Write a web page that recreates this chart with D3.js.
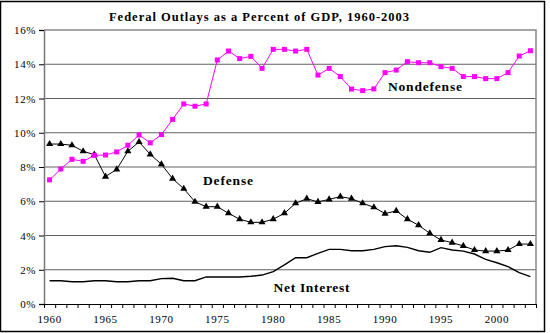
<!DOCTYPE html>
<html>
<head>
<meta charset="utf-8">
<script src="https://cdn.jsdelivr.net/npm/d3@7"></script>
<style>
  body { margin: 0; background: #fff; }
  text { font-family: "Liberation Serif", "Times New Roman", serif; }
</style>
</head>
<body>
<div id="chart"></div>
<script>
// Data (percent of GDP)
var years = d3.range(1960, 2004)

var nondefense = [7.25, 7.88, 8.45, 8.33, 8.68, 8.7, 8.88, 9.27, 9.87, 9.41, 9.89,
  10.78, 11.68, 11.55, 11.68, 14.25, 14.77, 14.33, 14.46, 13.76, 14.87,
  14.87, 14.77, 14.87, 13.37, 13.76, 13.28, 12.55, 12.46, 12.56, 13.51,
  13.66, 14.15, 14.09, 14.09, 13.86, 13.76, 13.28, 13.28, 13.16, 13.16,
  13.51, 14.48, 14.79]

var defense = [9.34, 9.34, 9.27, 8.92, 8.72, 7.44, 7.86, 8.92, 9.46, 8.74, 8.16,
  7.32, 6.73, 5.97, 5.68, 5.68, 5.3, 4.95, 4.77, 4.77, 4.95,
  5.3, 5.88, 6.15, 5.96, 6.11, 6.27, 6.15, 5.88, 5.65, 5.28,
  5.44, 4.95, 4.6, 4.13, 3.74, 3.58, 3.39, 3.15, 3.09, 3.09,
  3.15, 3.5, 3.5]

var netInterest = [1.36, 1.36, 1.3, 1.3, 1.36, 1.36, 1.3, 1.3, 1.36, 1.36, 1.48,
  1.5, 1.36, 1.36, 1.58, 1.58, 1.58, 1.58, 1.62, 1.69, 1.89,
  2.28, 2.7, 2.7, 2.96, 3.19, 3.19, 3.11, 3.11, 3.19, 3.35,
  3.4, 3.31, 3.11, 3.02, 3.29, 3.15, 3.09, 2.92, 2.61, 2.41,
  2.18, 1.83, 1.6]

var yTicks = [0, 2, 4, 6, 8, 10, 12, 14, 16]
var xLabels = [1960, 1965, 1970, 1975, 1980, 1985, 1990, 1995, 2000]

var svg = d3.select('#chart').append('svg').attr('width', 550).attr('height', 333)

// outer frame
svg.append('rect').attr('x', 0.5).attr('y', 1.5).attr('width', 544).attr('height', 330)
  .attr('fill', '#fff').attr('stroke', '#000').attr('stroke-width', 1.5)

var plotL = 44, plotR = 536, plotT = 30, plotB = 304

var x = d3.scaleLinear().domain([1959.5, 2003.5]).range([plotL, plotR])
var y = d3.scaleLinear().domain([0, 16]).range([plotB, plotT])

// gridlines
svg.append('g').selectAll('line').data(yTicks.slice(1, -1)).join('line')
  .attr('x1', plotL).attr('x2', plotR)
  .attr('y1', d => y(d)).attr('y2', d => y(d))
  .attr('stroke', '#606060').attr('stroke-width', 1.2)

// plot border (top / right)
svg.append('path')
  .attr('d', 'M' + plotL + ',' + y(16) + 'H' + plotR + 'V' + plotB)
  .attr('fill', 'none').attr('stroke', '#888').attr('stroke-width', 1.5)

// y axis
var yAxis = svg.append('g').attr('transform', 'translate(' + plotL + ',0)')
  .call(d3.axisLeft(y).tickValues(yTicks).tickSize(5).tickPadding(3).tickFormat(d => d + '%'))
yAxis.select('.domain').attr('stroke', '#777').attr('stroke-width', 1.5)
yAxis.selectAll('.tick line').attr('stroke', '#000')
yAxis.selectAll('text').attr('font-size', 11).attr('fill', '#000')
  .attr('font-family', '"Liberation Serif", serif').style('letter-spacing', '0.6px')

// x axis: ticks between categories, labels every 5 years
var xAxis = svg.append('g').attr('transform', 'translate(0,' + plotB + ')')
  .call(d3.axisBottom(x).tickValues(d3.range(1959.5, 2004, 1)).tickSize(4).tickFormat(''))
xAxis.select('.domain').attr('stroke', '#000')
xAxis.selectAll('.tick line').attr('stroke', '#000')

svg.append('g').selectAll('text').data(xLabels).join('text')
  .attr('x', d => x(d)).attr('y', 322.5)
  .attr('text-anchor', 'middle').attr('font-size', 11)
  .style('letter-spacing', '0.6px')
  .text(d => d)

// series
var line = d3.line().x((d, i) => x(years[i])).y(d => y(d))

svg.append('path').datum(netInterest).attr('d', line)
  .attr('fill', 'none').attr('stroke', '#000').attr('stroke-width', 1.4)

svg.append('path').datum(defense).attr('d', line)
  .attr('fill', 'none').attr('stroke', '#000').attr('stroke-width', 1)

svg.append('path').datum(nondefense).attr('d', line)
  .attr('fill', 'none').attr('stroke', '#ff00ff').attr('stroke-width', 1)

svg.append('g').selectAll('path').data(defense).join('path')
  .attr('transform', (d, i) => 'translate(' + x(years[i]) + ',' + y(d) + ')')
  .attr('d', d3.symbol(d3.symbolTriangle, 22))
  .attr('fill', '#000')

svg.append('g').selectAll('rect').data(nondefense).join('rect')
  .attr('x', (d, i) => x(years[i]) - 2.5).attr('y', d => y(d) - 2.5)
  .attr('width', 5).attr('height', 5)
  .attr('fill', '#ff00ff')

// title
svg.append('text').attr('x', 259).attr('y', 20.5)
  .attr('text-anchor', 'middle').attr('font-size', 12.5).attr('font-weight', 'bold')
  .attr('textLength', 300).attr('lengthAdjust', 'spacing')
  .text('Federal Outlays as a Percent of GDP, 1960-2003')

// series labels
var labels = [
  {text: 'Nondefense', x: 388, y: 90.5, w: 74},
  {text: 'Defense', x: 203, y: 185.3, w: 50},
  {text: 'Net Interest', x: 273.5, y: 291.5, w: 76}
]
svg.append('g').selectAll('text').data(labels).join('text')
  .attr('x', d => d.x).attr('y', d => d.y)
  .attr('font-size', 13.5).attr('font-weight', 'bold')
  .attr('textLength', d => d.w).attr('lengthAdjust', 'spacing')
  .text(d => d.text)
</script>
</body>
</html>
